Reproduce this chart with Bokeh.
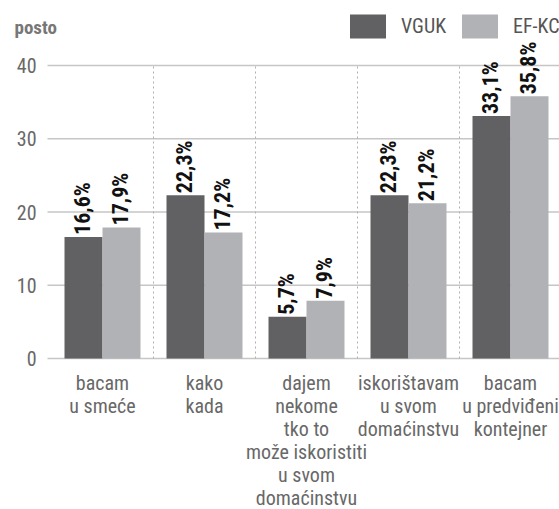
import math
from bokeh.plotting import figure
from bokeh.models import (ColumnDataSource, Range1d, Legend, LegendItem)
from bokeh.core.properties import value
from bokeh.embed import file_html
from bokeh.resources import INLINE

categories = ["bacam\nu smeće", "kako\nkada",
              "dajem\nnekome\ntko to\nmože iskoristiti\nu svom\ndomaćinstvu",
              "iskorištavam\nu svom\ndomaćinstvu", "bacam\nu predviđeni\nkontejner"]
vguk = [16.6, 22.3, 5.7, 22.3, 33.1]
efkc = [17.9, 17.2, 7.9, 21.2, 35.8]
series_names = ["VGUK", "EF-KC"]
y_ticks = [0, 10, 20, 30, 40]
y_title = "posto"

FONT = value("Roboto Condensed")
DARK = "#616163"
LIGHT = "#b1b2b5"
GREY_TXT = "#686868"

# layout (pixels -> data): category width 102 px, first category starts at x=51 px
W, H = 559, 509
PX_X = 102.0
X0_PX = 51.0
Y0_PX, Y40_PX = 358.0, 65.0
PX_Y = (Y0_PX - Y40_PX) / (y_ticks[-1] - y_ticks[0])

x_start = -X0_PX / PX_X
x_end = (W - X0_PX) / PX_X
y_end = y_ticks[-1] + Y40_PX / PX_Y
y_start = -(H - Y0_PX) / PX_Y
grid_left = x_start + 47 / PX_X

def fmt(v):
    return f"{v:.1f}".replace(".", ",") + "%"

n = len(categories)
centers = [i + 0.5 for i in range(n)]
bw = 0.3725

src_a = ColumnDataSource(dict(x=[c - bw / 2 for c in centers], top=vguk,
                              lab=[fmt(v) for v in vguk]))
src_b = ColumnDataSource(dict(x=[c + bw / 2 for c in centers], top=efkc,
                              lab=[fmt(v) for v in efkc]))

p = figure(width=W, height=H, output_backend="svg", toolbar_location=None,
           x_range=Range1d(x_start, x_end), y_range=Range1d(y_start, y_end),
           min_border=0, min_border_left=0, min_border_right=0,
           min_border_top=0, min_border_bottom=0)
p.outline_line_color = None
p.axis.visible = False
p.grid.visible = False

# horizontal grid lines
p.segment(x0=[grid_left] * len(y_ticks), x1=[x_end] * len(y_ticks), y0=y_ticks,
          y1=y_ticks, line_color="#c6c6c6", line_width=1.3)
# vertical dotted separators between categories
seps = list(range(1, n))
p.segment(x0=seps, x1=seps, y0=[y_ticks[0]] * len(seps), y1=[y_ticks[-1]] * len(seps),
          line_color="#b0b0b0", line_width=1, line_dash="2 3")

ra = p.vbar(x="x", top="top", width=bw, bottom=0, source=src_a, fill_color=DARK,
            line_color=None)
rb = p.vbar(x="x", top="top", width=bw, bottom=0, source=src_b, fill_color=LIGHT,
            line_color=None)

# y tick labels
p.text(x=[grid_left] * len(y_ticks), y=y_ticks, text=[str(t) for t in y_ticks],
       x_offset=-11, text_align="right", text_baseline="middle", text_font=FONT,
       text_font_size="20px", text_color=GREY_TXT)

# value labels
for src in (src_a, src_b):
    p.text(x="x", y="top", text="lab", source=src, angle=math.pi / 2,
           text_align="left", text_baseline="middle", y_offset=-2, x_offset=-1,
           text_font=FONT, text_font_style="bold", text_font_size="22px",
           text_color="#111111")

# category labels
p.text(x=centers, y=[0] * n, text=categories, text_align="center",
       text_baseline="top", y_offset=12, text_font=FONT, text_font_size="20px",
       text_color=GREY_TXT, text_line_height=0.96)

# unit title
p.text(x=[x_start + 14 / PX_X], y=[y_end - 27 / PX_Y], text=[y_title],
       text_align="left", text_baseline="middle", text_font=FONT,
       text_font_style="bold", text_font_size="19px", text_color="#777777")

legend = Legend(items=[LegendItem(label=series_names[0], renderers=[ra]),
                       LegendItem(label=series_names[1], renderers=[rb])],
                orientation="horizontal", location=(345, H - 41),
                glyph_width=45, glyph_height=30, label_standoff=11, spacing=11,
                padding=0, margin=0, border_line_color=None,
                background_fill_alpha=0, label_text_font="Roboto Condensed",
                label_text_font_size="20px", label_text_color="#555555")
p.add_layout(legend, "center")

open("out.html", "w").write(file_html(p, INLINE))
